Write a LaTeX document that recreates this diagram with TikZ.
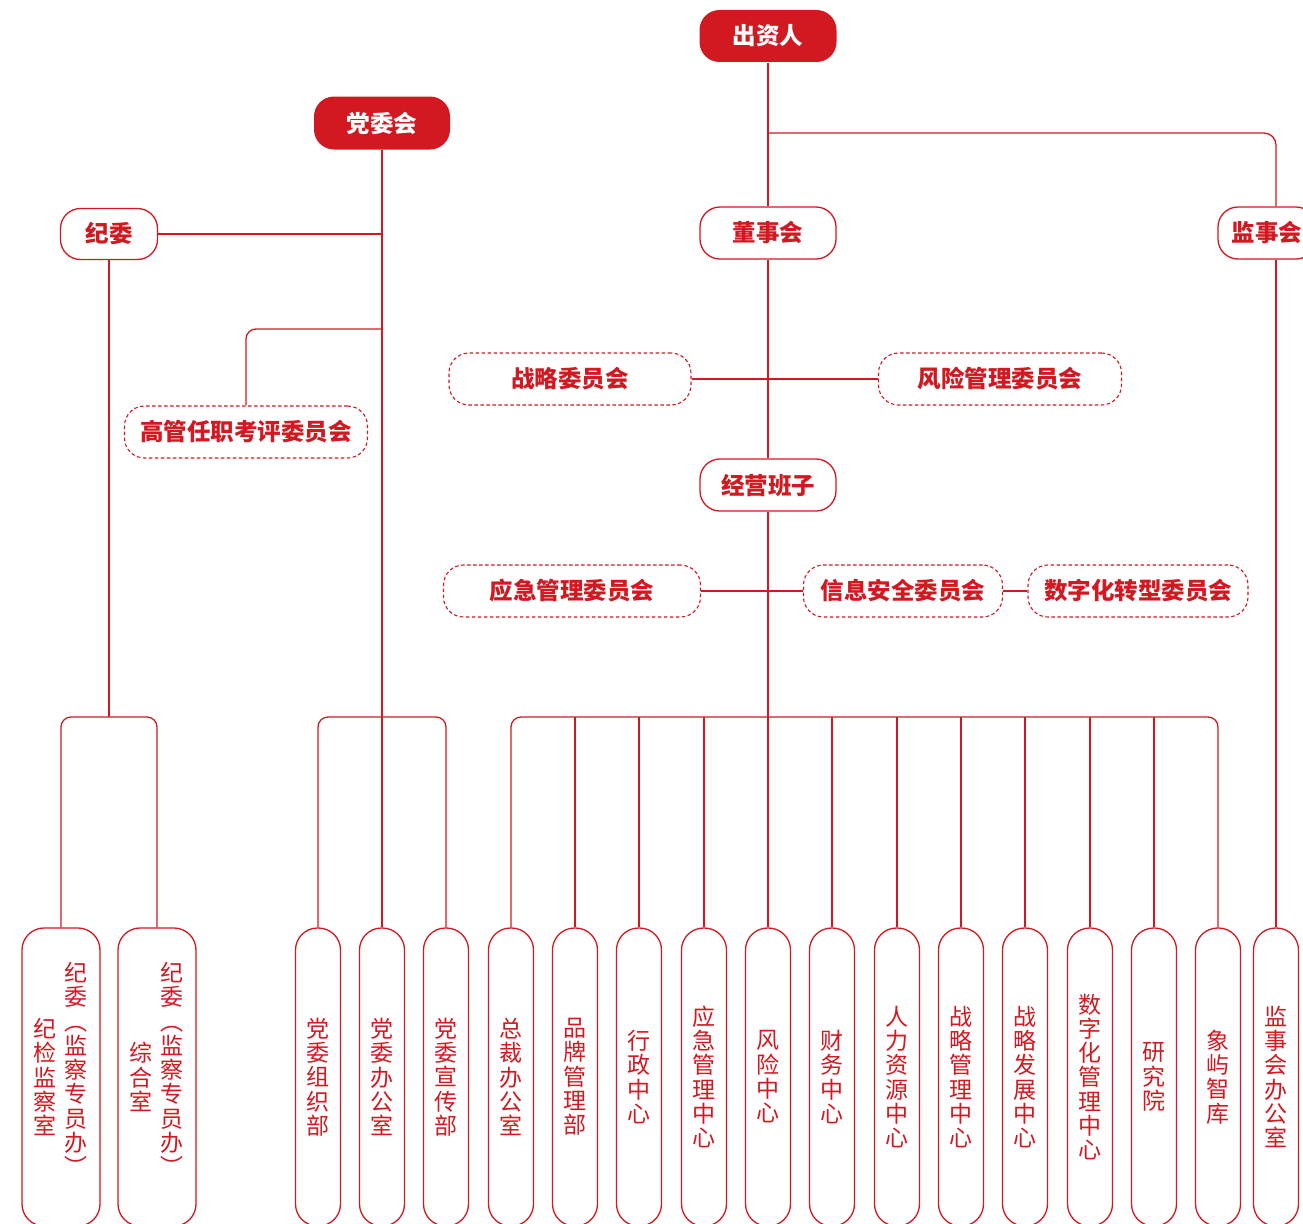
\documentclass[tikz,border=0pt]{standalone}
\usepackage{fontspec}
\newfontfamily\cjk{Noto Sans CJK SC}
\definecolor{orgred}{RGB}{210,24,32}

\begin{document}
\begin{tikzpicture}[x=1pt, y=-1pt, color=orgred, line width=1.3pt, line join=round,
  boss/.style={fill=orgred, text=white, rounded corners=20pt, minimum width=137pt, minimum height=52pt, inner sep=0pt, font=\cjk\bfseries\fontsize{23.5}{26}\selectfont},
  unit/.style={boss, draw, fill=white, text=orgred},
  cmte/.style={unit, line width=1.1pt, dash pattern=on 3.5pt off 2.5pt, minimum width=243pt},
  dept/.style={draw, fill=white, rounded corners=22pt, minimum width=45pt, minimum height=298pt, inner sep=0pt, align=center, font=\cjk\fontsize{23}{24.3}\selectfont},
  vcol/.style={inner sep=0pt, align=center, font=\cjk\fontsize{23}{24.3}\selectfont}]
  \useasboundingbox (0,0) rectangle (1303,1223);
  \clip (0,0) rectangle (1303,1223);

  % top level
  \node[boss] (czr) at (768,36) {出资人};
  \node[boss, minimum width=136pt, minimum height=53pt] (dwh) at (382,123) {党委会};
  \node[unit, minimum width=97pt, minimum height=51pt] (jw) at (109,234) {纪委};
  \node[unit, minimum width=136pt] (dsh) at (768,233) {董事会};
  \node[unit, minimum width=98pt] (jsh) at (1267,233) {监事会};
  \node[unit, minimum width=136pt] (jybz) at (768,485) {经营班子};

  % committees
  \node[cmte, minimum width=242pt] (zlw) at (570,379) {战略委员会};
  \node[cmte] (fxw) at (1000,379) {风险管理委员会};
  \node[cmte] (ggw) at (246,432) {高管任职考评委员会};
  \node[cmte, minimum width=257pt] (yjw) at (572,591) {应急管理委员会};
  \node[cmte, minimum width=199pt] (xxw) at (903,591) {信息安全委员会};
  \node[cmte, minimum width=220pt] (szw) at (1138,591) {数字化转型委员会};

  % departments
  \node[dept, minimum width=78pt] (jjs) at (61,1077) {};
  \node[vcol] at ([xshift=-16.5pt]jjs.center) {纪\\检\\监\\察\\室};
  \node[vcol] at ([xshift=15pt, yshift=8pt]jjs.center) {纪\\委\\︵\\监\\察\\专\\员\\办\\︶};
  \node[dept, minimum width=78pt] (zhs) at (157,1077) {};
  \node[vcol] at ([xshift=-16.5pt]zhs.center) {综\\合\\室};
  \node[vcol] at ([xshift=15pt, yshift=8pt]zhs.center) {纪\\委\\︵\\监\\察\\专\\员\\办\\︶};
  \foreach \x/\n/\t in {318/d1/{党\\委\\组\\织\\部}, 382/d2/{党\\委\\办\\公\\室}, 446/d3/{党\\委\\宣\\传\\部},
      511/m1/{总\\裁\\办\\公\\室}, 575/m2/{品\\牌\\管\\理\\部}, 639/m3/{行\\政\\中\\心},
      704/m4/{应\\急\\管\\理\\中\\心}, 768/m5/{风\\险\\中\\心}, 832/m6/{财\\务\\中\\心},
      897/m7/{人\\力\\资\\源\\中\\心}, 961/m8/{战\\略\\管\\理\\中\\心}, 1025/m9/{战\\略\\发\\展\\中\\心},
      1090/m10/{数\\字\\化\\管\\理\\中\\心}, 1154/m11/{研\\究\\院}, 1218/m12/{象\\屿\\智\\库},
      1276/jsbgs/{监\\事\\会\\办\\公\\室}}
    \node[dept] (\n) at (\x,1077) {\t};

  % connectors
  \coordinate (fork) at (768,133);
  \coordinate (gsplit) at (382,329);
  \coordinate (jbar) at (109,717);
  \coordinate (dbar) at (382,717);
  \coordinate (mbar) at (768,717);
  \draw (czr) -- (dsh);
  \draw[rounded corners=12pt] (fork) -| (jsbgs.north |- jsh.north);
  \draw (jsh.south -| jsbgs.north) -- (jsbgs.north);
  \draw (dsh) -- (jybz);
  \draw (zlw) -- (fxw);
  \draw (jybz) -- (m5);
  \draw (yjw) -- (xxw);
  \draw (xxw) -- (szw);
  \draw (dwh) -- (d2);
  \draw (jw.east) -- (jw -| dwh.south);
  \draw[rounded corners=10pt] (ggw.north) |- (gsplit);
  \draw (jw) -- (jbar);
  \draw[rounded corners=10pt] (jjs.north) |- (jbar) -| (zhs.north);
  \draw[rounded corners=10pt] (d1.north) |- (dbar) -| (d3.north);
  \draw[rounded corners=10pt] (m1.north) |- (mbar) -| (m12.north);
  \foreach \n in {m2,m3,m4,m6,m7,m8,m9,m10,m11}
    \draw (\n.north) -- (\n.north |- mbar);
\end{tikzpicture}
\end{document}
